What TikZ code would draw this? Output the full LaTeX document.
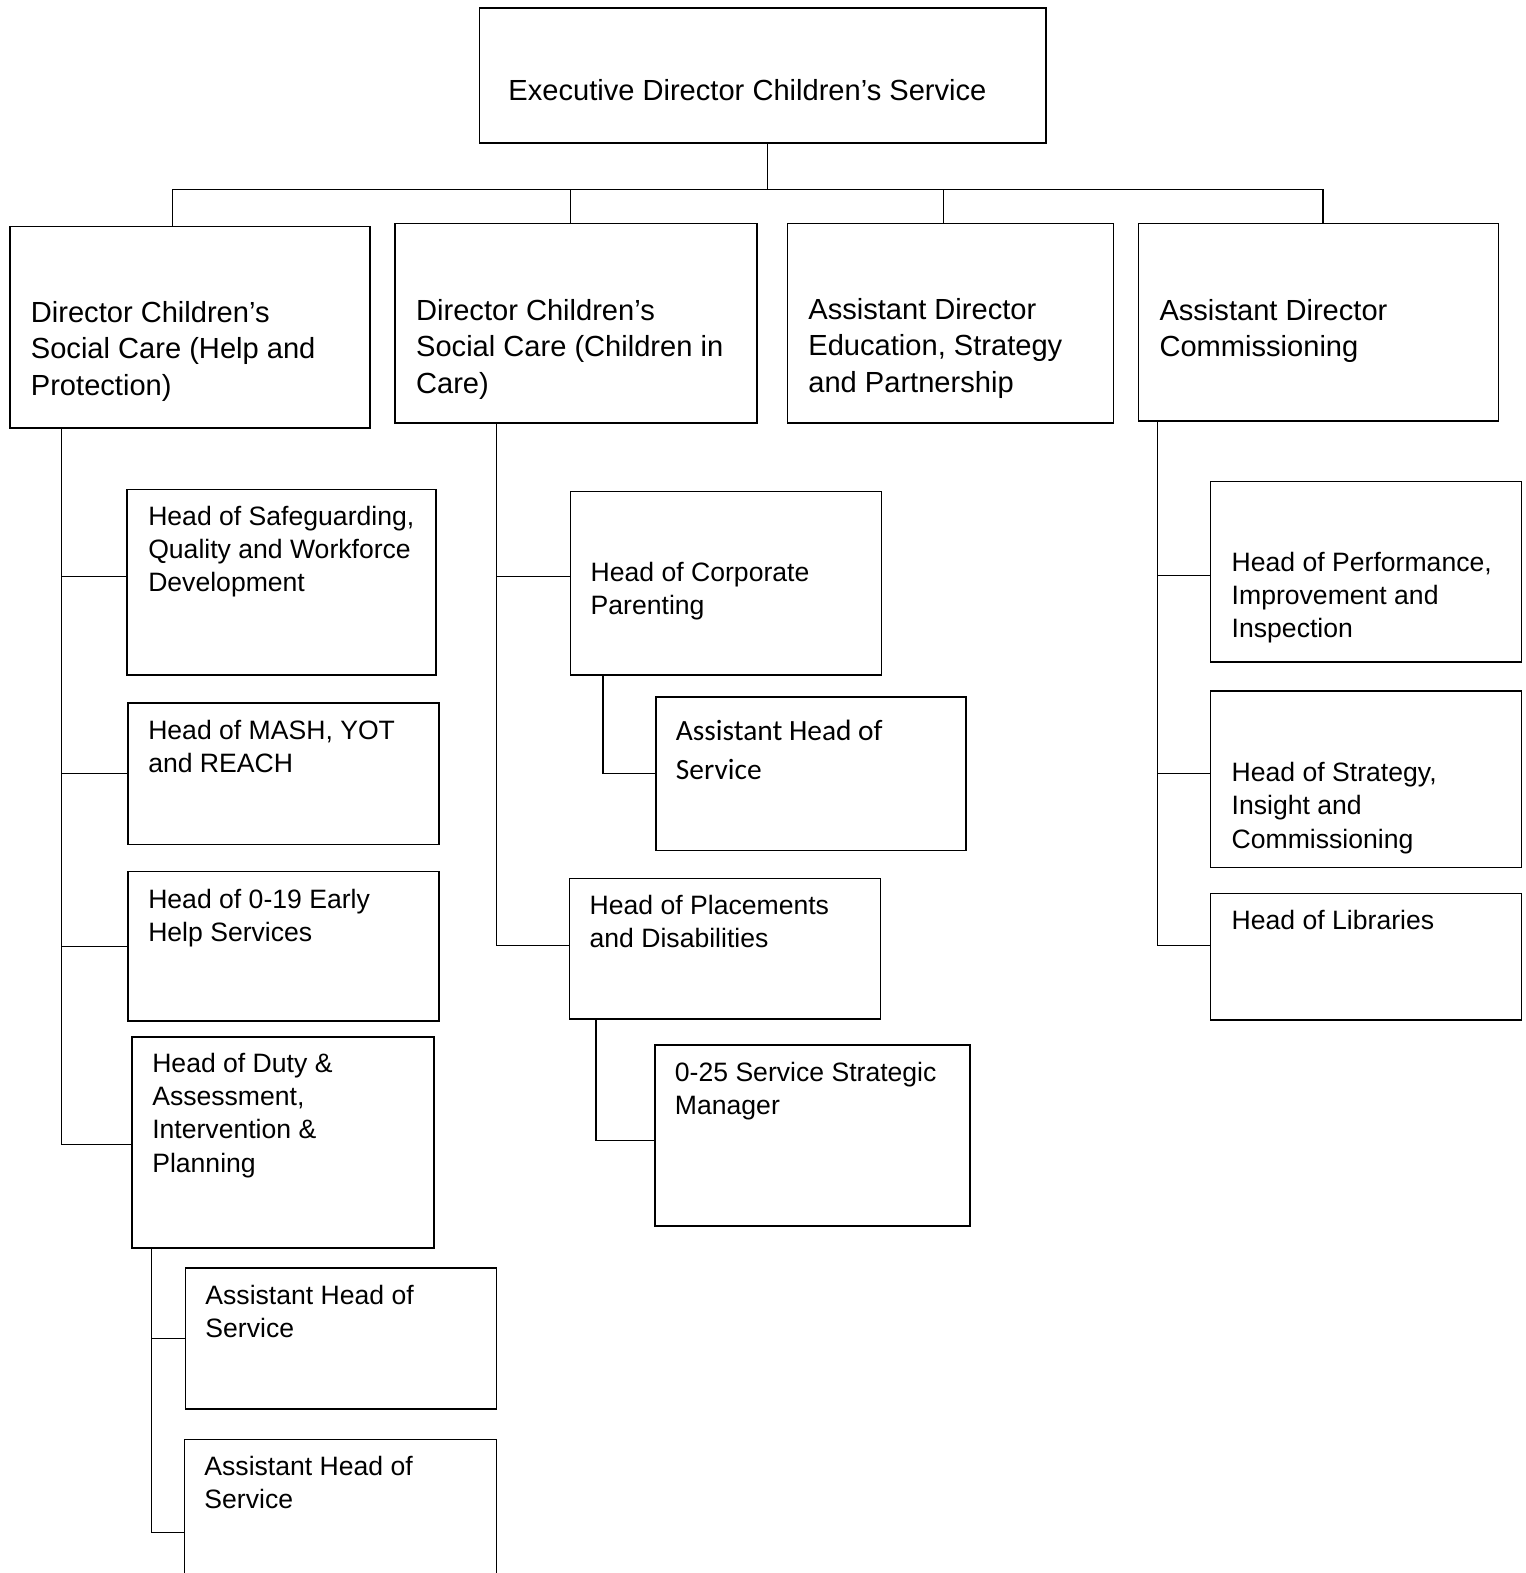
\documentclass[tikz,border=0pt]{standalone}
\usepackage{fontspec}
\setmainfont{Liberation Sans}
\newfontfamily\calibrifont{Carlito}
\usepackage{tikz}

% box text: width, height, left pad, first baseline, text
\newcommand{\postbox}[5]{\parbox[t][#2pt][t]{#1pt}{\vspace*{\dimexpr#4pt-0.7\baselineskip\relax}%
  \raggedright\leftskip=#3pt\strut#5}}

\begin{document}
\begin{tikzpicture}[x=1pt,y=-1pt,
  post/.style = {draw,line width=1.6pt,inner sep=0pt,anchor=north west,
        font=\fontsize{29}{36}\selectfont},
  head/.style = {post,font=\fontsize{26.5}{33}\selectfont},
  link/.style = {line width=1.2pt}]
 \useasboundingbox (0,0) rectangle (1521,1568);
 \clip (0,0) rectangle (1521,1568);

 \node[post] (exec) at (477,7)  {\postbox{565}{135}{29}{92}{Executive Director Children's Service}};

 \node[post] (dirA) at (9,225)    {\postbox{359}{201}{21}{96}{Director Children's\\
                    Social Care (Help and\\ Protection)}};
 \node[post] (dirB) at (393,222)  {\postbox{361}{199}{21}{97}{Director Children's\\
                    Social Care (Children in\\ Care)}};
 \node[post] (dirC) at (784,222)  {\postbox{325}{199}{21}{96}{Assistant Director\\
                    Education, Strategy\\ and Partnership}};
 \node[post] (dirD) at (1134,222) {\postbox{359}{197}{21}{97}{Assistant Director\\
                    Commissioning}};

 % help and protection
 \node[head] (s1) at (126,487)  {\postbox{308}{185}{21}{36}{Head of Safeguarding,\\
                    Quality and Workforce\\ Development}};
 \node[head] (s2) at (127,700)  {\postbox{310}{141}{20}{36}{Head of MASH, YOT\\ and REACH}};
 \node[head] (s3) at (127,868)  {\postbox{310}{149}{20}{36.5}{Head of 0-19 Early\\ Help Services}};
 \node[head] (s4) at (131,1033) {\postbox{301}{210}{20}{35.5}{Head of Duty \&\\
                    Assessment,\\ Intervention \&\\ Planning}};
 \node[head] (s5) at (184,1263) {\postbox{310}{141}{20}{36.5}{Assistant Head of\\ Service}};
 \node[head] (s6) at (183,1434) {\postbox{311}{186}{20}{35.5}{Assistant Head of\\ Service}};

 % children in care
 \node[head] (m1) at (568,489)  {\postbox{310}{183}{20}{89.5}{Head of Corporate\\ Parenting}};
 \node[post,font=\calibrifont\fontsize{29.3}{39}\selectfont] (m2) at (653,694)
                    {\postbox{309}{153}{20}{43}{Assistant Head of\\ Service}};
 \node[head] (m3) at (567,875)  {\postbox{310}{140}{20}{35.5}{Head of Placements\\
                    and Disabilities}};
 \node[head] (m4) at (652,1041) {\postbox{314}{180}{20}{36.5}{0-25 Service Strategic\\ Manager}};

 % commissioning
 \node[head] (r1) at (1206,479) {\postbox{310}{180}{21}{89.5}{Head of Performance,\\
                    Improvement and\\ Inspection}};
 \node[head] (r2) at (1206,688) {\postbox{310}{176}{21}{90.5}{Head of Strategy,\\
                    Insight and\\ Commissioning}};
 \node[head] (r3) at (1206,890) {\postbox{310}{126}{21}{35.5}{Head of Libraries}};

 \coordinate (bus) at ([xshift=4.5pt,yshift=-45pt]exec.south);
 \coordinate (spA) at ([xshift=52pt]dirA.south west);
 \coordinate (spS) at ([xshift=20pt]s4.south west);
 \coordinate (spB) at ([xshift=102pt]dirB.south west);
 \coordinate (spM1) at ([xshift=33pt]m1.south west);
 \coordinate (spM3) at ([xshift=27pt]m3.south west);
 \coordinate (spD) at ([xshift=20pt]dirD.south west);

 \begin{scope}[link]
  \draw ([xshift=4.5pt]exec.south) -- (bus);
  \draw ([xshift=-17.5pt]dirA.north) |- (bus) -| ([xshift=4.5pt]dirD.north);
  \draw ([xshift=-5.5pt]dirB.north) |- (bus);
  \draw ([xshift=-6.5pt]dirC.north) |- (bus);
  \foreach \n/\s in {s1/5.5,s2/0,s3/0,s4/-2}
   \draw (spA) |- ([yshift=\s pt]\n.west);
  \foreach \n in {s5,s6}
   \draw (spS) |- (\n.west);
  \foreach \n/\s in {m1/6.5,m3/3}
   \draw (spB) |- ([yshift=\s pt]\n.west);
  \draw (spM1) |- (m2.west);
  \draw (spM3) |- ([yshift=-5pt]m4.west);
  \foreach \n/\s in {r1/-4,r2/6,r3/11}
   \draw (spD) |- ([yshift=\s pt]\n.west);
 \end{scope}
\end{tikzpicture}
\end{document}
